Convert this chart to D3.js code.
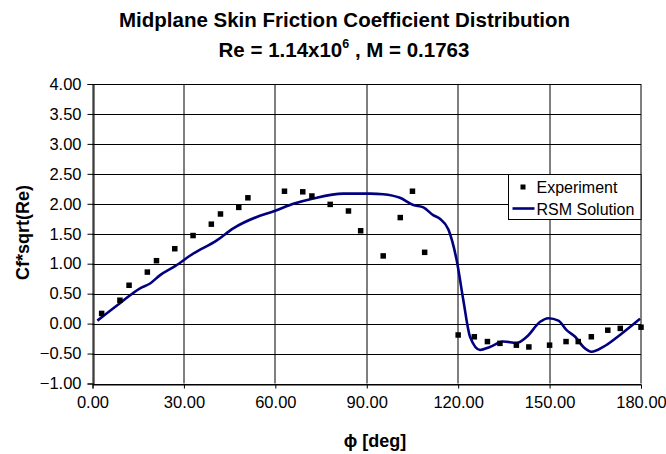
<!DOCTYPE html>
<html>
<head>
<meta charset="utf-8">
<script src="https://cdn.jsdelivr.net/npm/d3@7"></script>
<style>
  html, body { margin: 0; padding: 0; background: #fff; }
  svg { display: block; font-family: Arial, "Liberation Sans", sans-serif; }
</style>
</head>
<body>
<svg id="chart" width="666" height="454"></svg>
<script>
// Measured skin friction (phi in degrees, Cf*sqrt(Re))
const expPhi = [3, 9, 12, 18, 21, 27, 33, 39, 42, 48, 51, 63, 69, 72, 78, 84, 88, 95.4, 101, 105, 109,
                120, 125.3, 129.6, 133.7, 139.1, 143.2, 150, 155.4, 159.4, 163.7, 169.1, 173.2, 180];
const expCf  = [0.17, 0.39, 0.64, 0.86, 1.05, 1.25, 1.47, 1.66, 1.83, 1.94, 2.10, 2.21, 2.20, 2.13, 1.99, 1.88, 1.55, 1.13, 1.77, 2.21, 1.19,
                -0.19, -0.22, -0.30, -0.33, -0.36, -0.39, -0.36, -0.30, -0.30, -0.22, -0.11, -0.08, -0.06];

// RSM computation along the midplane
const rsmPhi = [1.6, 9, 15.6, 18.9, 22.2, 27.1, 33.1, 40.8, 46.2, 53.9, 59.3, 65.9, 72.5, 82.3, 91.1, 95.4, 100.9,
                105.3, 108.6, 111.8, 114, 116.8, 119.5, 121.7, 123.9, 127.2, 130.4, 134.8, 139.2, 142.5, 146.9,
                149.6, 152.9, 155.6, 158.4, 161.1, 163.8, 167.6, 173.1, 179.7];
const rsmCf  = [0.05, 0.34, 0.59, 0.67, 0.81, 0.96, 1.17, 1.39, 1.59, 1.78, 1.87, 2.00, 2.09, 2.17, 2.17, 2.16, 2.10,
                1.98, 1.94, 1.81, 1.75, 1.57, 1.06, 0.39, -0.22, -0.44, -0.39, -0.30, -0.32, -0.22, 0.03,
                0.09, 0.05, -0.11, -0.22, -0.39, -0.47, -0.39, -0.19, 0.08];

const xTicks = [0, 30, 60, 90, 120, 150, 180];
const yTicks = [-1, -0.5, 0, 0.5, 1, 1.5, 2, 2.5, 3, 3.5, 4];

const FONT = "Arial, 'Liberation Sans', sans-serif";
const svg = d3.select("#chart");
const L = 92.5, R = 641, T = 84, B = 383.5;

const x = d3.scaleLinear().domain([0, 180]).range([L, R]);
const y = d3.scaleLinear().domain([-1, 4]).range([B, T]);

// Horizontal gridlines
svg.append("g").selectAll("line").data(yTicks).join("line")
  .attr("x1", L).attr("x2", R)
  .attr("y1", d => Math.round(y(d)) + 0.5).attr("y2", d => Math.round(y(d)) + 0.5)
  .attr("stroke", "#000").attr("stroke-width", 1);

// Vertical gridlines
svg.append("g").selectAll("line").data(xTicks).join("line")
  .attr("y1", T).attr("y2", B)
  .attr("x1", d => Math.round(x(d))).attr("x2", d => Math.round(x(d)))
  .attr("stroke", "#000").attr("stroke-width", 1);

// Y axis
const yAxis = d3.axisLeft(y).tickValues(yTicks).tickFormat(d3.format(".2f")).tickSize(6).tickPadding(6);
const gy = svg.append("g").attr("transform", `translate(${Math.round(L) + 0.5},0)`).call(yAxis);
gy.selectAll("text").attr("font-size", 16.5).attr("fill", "#000").attr("font-family", FONT);
gy.selectAll("line,path").attr("stroke", "#000");

// X axis
const xAxis = d3.axisBottom(x).tickValues(xTicks).tickFormat(d3.format(".2f")).tickSize(4).tickPadding(8);
const gx = svg.append("g").attr("transform", `translate(0,${Math.round(B) + 0.5})`).call(xAxis);
gx.selectAll("text").attr("font-size", 16.5).attr("fill", "#000").attr("font-family", FONT);
gx.selectAll("line,path").attr("stroke", "#000");

// RSM curve
svg.append("path")
  .datum(rsmPhi.map((p, i) => [p, rsmCf[i]]))
  .attr("fill", "none").attr("stroke", "#000080").attr("stroke-width", 2.6)
  .attr("stroke-linejoin", "round")
  .attr("d", d3.line().x(d => x(d[0])).y(d => y(d[1])).curve(d3.curveMonotoneX));

// Experimental points
const sq = 5.5;
svg.append("g").selectAll("rect").data(expPhi.map((p, i) => [p, expCf[i]])).join("rect")
  .attr("x", d => x(d[0]) - sq / 2).attr("y", d => y(d[1]) - sq / 2)
  .attr("width", sq).attr("height", sq).attr("fill", "#000");

// Legend
const lg = svg.append("g").attr("font-family", FONT);
lg.append("rect").attr("x", 508.5).attr("y", 174.5).attr("width", 132.5).attr("height", 45)
  .attr("fill", "#fff").attr("stroke", "#000").attr("stroke-width", 1);
lg.append("rect").attr("x", 520.5).attr("y", 184.5).attr("width", 5).attr("height", 5).attr("fill", "#000");
lg.append("text").attr("x", 536.5).attr("y", 192.7).attr("font-size", 16).text("Experiment");
lg.append("line").attr("x1", 512.5).attr("x2", 534.5).attr("y1", 208.5).attr("y2", 208.5)
  .attr("stroke", "#000080").attr("stroke-width", 2.6);
lg.append("text").attr("x", 536.5).attr("y", 215).attr("font-size", 16).text("RSM Solution");

// Titles
svg.append("text").attr("x", 344.5).attr("y", 26.7).attr("text-anchor", "middle")
  .attr("font-size", 20.5).attr("font-weight", "bold").attr("font-family", FONT)
  .text("Midplane Skin Friction Coefficient Distribution");

const sub = svg.append("text").attr("x", 344).attr("y", 57.3).attr("text-anchor", "middle")
  .attr("font-size", 20.5).attr("font-weight", "bold").attr("font-family", FONT);
sub.append("tspan").text("Re = 1.14x10");
sub.append("tspan").attr("font-size", 12.5).attr("dy", -9).text("6");
sub.append("tspan").attr("dy", 9).text(" , M = 0.1763");

// Axis titles
svg.append("text").attr("transform", "translate(29,232.5) rotate(-90)")
  .attr("text-anchor", "middle").attr("font-size", 18).attr("font-weight", "bold")
  .attr("font-family", FONT).text("Cf*sqrt(Re)");
svg.append("text").attr("x", 375).attr("y", 446.7).attr("text-anchor", "middle")
  .attr("font-size", 18).attr("font-weight", "bold").attr("font-family", FONT).text("ϕ [deg]");
</script>
</body>
</html>
